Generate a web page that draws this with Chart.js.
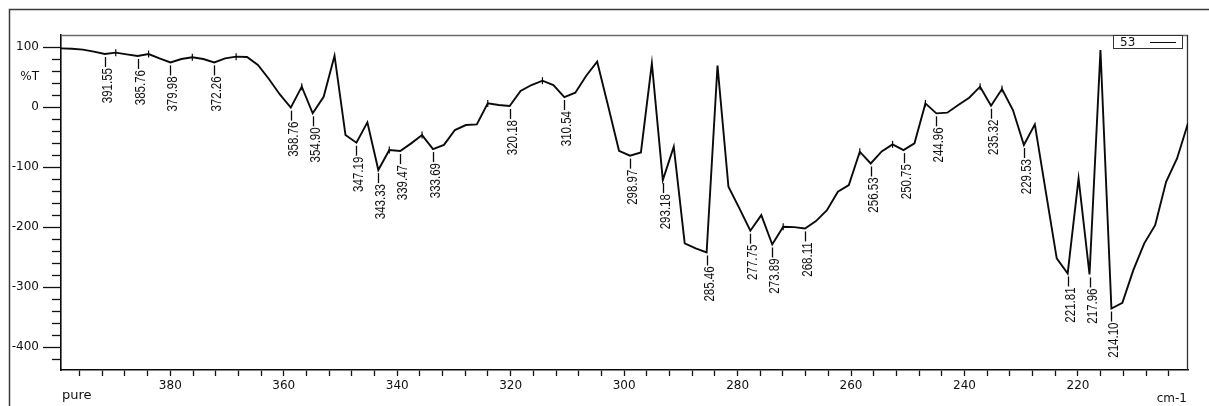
<!DOCTYPE html>
<html>
<head>
<meta charset="utf-8">
<script src="https://cdn.jsdelivr.net/npm/chart.js@4.4.1/dist/chart.umd.min.js"></script>
<style>
  html, body { margin: 0; padding: 0; background: #fff; }
  canvas { display: block; }
</style>
</head>
<body>
<canvas id="spectrum" width="1209" height="406"></canvas>
<script>
// Far-IR spectrum, sample "53" (pure), wavenumber in cm-1, transmittance in %T
const wavenumbers = [
  399.27, 397.34, 395.41, 393.48, 391.55, 389.62, 387.69, 385.76, 383.83, 381.91,
  379.98, 378.05, 376.12, 374.19, 372.26, 370.33, 368.40, 366.48, 364.55, 362.62,
  360.69, 358.76, 356.83, 354.90, 352.97, 351.05, 349.12, 347.19, 345.26, 343.33,
  341.40, 339.47, 337.54, 335.62, 333.69, 331.76, 329.83, 327.90, 325.97, 324.04,
  322.11, 320.18, 318.26, 316.33, 314.40, 312.47, 310.54, 308.61, 306.68, 304.75,
  302.83, 300.90, 298.97, 297.04, 295.11, 293.18, 291.25, 289.32, 287.39, 285.46,
  283.54, 281.61, 279.68, 277.75, 275.82, 273.89, 271.96, 270.04, 268.11, 266.18,
  264.25, 262.32, 260.39, 258.46, 256.53, 254.60, 252.68, 250.75, 248.82, 246.89,
  244.96, 243.03, 241.10, 239.17, 237.25, 235.32, 233.39, 231.46, 229.53, 227.60,
  225.67, 223.74, 221.81, 219.89, 217.96, 216.03, 214.10, 212.17, 210.24, 208.31,
  206.39, 204.46, 202.53, 200.60
];

const transmittance = [
  97.8, 97.2, 95.6, 92.2, 88.3, 90.6, 87.8, 85.0, 88.3, 81.1,
  74.4, 80.0, 82.8, 80.0, 74.4, 81.1, 83.9, 83.3, 70.0, 46.7,
  21.0, -1.0, 34.0, -10.5, 17.0, 85.5, -46.7, -59.4, -25.6, -105.0,
  -71.7, -73.3, -60.5, -46.7, -70.0, -63.0, -38.3, -30.0, -29.0, 6.1,
  3.3, 1.7, 26.7, 36.7, 43.9, 36.7, 16.7, 23.9, 52.2, 75.6,
  2.0, -72.8, -81.0, -75.6, 72.8, -121.7, -66.1, -227.0, -235.5, -242.2,
  68.9, -132.8, -168.9, -206.0, -180.0, -228.9, -199.4, -200.0, -202.2, -190.0,
  -171.7, -141.1, -130.0, -74.4, -94.0, -74.0, -62.2, -71.7, -60.5, 6.1,
  -10.5, -9.4, 3.3, 15.6, 33.9, 2.2, 30.0, -5.0, -63.3, -28.9,
  -141.0, -252.0, -277.2, -118.9, -278.9, 95.0, -335.6, -326.0, -271.7, -227.0,
  -196.7, -124.4, -85.6, -27.2
];

// picked absorption bands (labelled minima)
const peakLabels = [
  391.55, 385.76, 379.98, 372.26, 358.76, 354.90, 347.19, 343.33, 339.47, 333.69,
  320.18, 310.54, 298.97, 293.18, 285.46, 277.75, 273.89, 268.11, 256.53, 250.75,
  244.96, 235.32, 229.53, 221.81, 217.96, 214.10
];

// small marks on local maxima
const maxMarks = [
  389.62, 383.83, 376.12, 368.40, 356.83, 341.40, 335.62, 324.04, 314.40,
  271.96, 258.46, 252.68, 246.89, 237.25, 233.39
];

const seriesName = '53';
const sampleNote = 'pure';
const xUnit = 'cm-1';
const yUnit = '%T';
const xLabelValues = [380, 360, 340, 320, 300, 280, 260, 240, 220];
const yLabelValues = [100, 0, -100, -200, -300, -400];
const yUnitAt = 50;

const INK = '#0a0a0a';
const TEXT = '#111';

const decorations = {
  id: 'decorations',
  beforeDatasetsDraw(chart) {
    const { ctx, chartArea: a } = chart;
    ctx.save();
    ctx.lineCap = 'butt';
    ctx.strokeStyle = '#6a6a6a';
    ctx.lineWidth = 1.6;
    ctx.beginPath();
    ctx.moveTo(a.left, a.top + 0.5);
    ctx.lineTo(a.right, a.top + 0.5);
    ctx.stroke();
    ctx.strokeStyle = '#333';
    ctx.lineWidth = 1.3;
    ctx.beginPath();
    ctx.moveTo(a.right - 0.5, a.top);
    ctx.lineTo(a.right - 0.5, a.bottom);
    ctx.stroke();
    ctx.restore();
  },
  afterDatasetsDraw(chart) {
    const { ctx } = chart;
    const xs = chart.scales.x, ys = chart.scales.y;
    ctx.save();
    ctx.strokeStyle = INK;
    ctx.fillStyle = TEXT;
    ctx.lineWidth = 1.3;
    ctx.font = '11.5px "Liberation Sans", Arial, sans-serif';
    peakLabels.forEach(w => {
      const i = wavenumbers.indexOf(w);
      const px = Math.round(xs.getPixelForValue(w)) + 0.5;
      const py = ys.getPixelForValue(transmittance[i]);
      const top = py + 3;
      const end = top + 10;
      ctx.beginPath();
      ctx.moveTo(px, top);
      ctx.lineTo(px, end);
      ctx.stroke();
      ctx.save();
      ctx.translate(px, end + 1);
      ctx.rotate(-Math.PI / 2);
      ctx.scale(1, 1.25);
      ctx.textAlign = 'right';
      ctx.textBaseline = 'alphabetic';
      ctx.fillText(w.toFixed(2), 0, 5);
      ctx.restore();
    });
    ctx.restore();
  },
  afterDraw(chart) {
    const { ctx, chartArea: a } = chart;
    ctx.save();
    // outer frame
    ctx.strokeStyle = '#3a3a3a';
    ctx.lineWidth = 1.5;
    ctx.beginPath();
    ctx.moveTo(9.5, chart.height);
    ctx.lineTo(9.5, 9.5);
    ctx.lineTo(chart.width, 9.5);
    ctx.stroke();

    // legend box
    const lx = a.right - 75, ly = a.top, lw = 69, lh = 13;
    ctx.fillStyle = '#fff';
    ctx.fillRect(lx, ly, lw, lh);
    ctx.strokeStyle = '#333';
    ctx.lineWidth = 1;
    ctx.strokeRect(lx + 0.5, ly + 0.5, lw, lh);
    ctx.fillStyle = TEXT;
    ctx.font = '12px "DejaVu Sans", sans-serif';
    ctx.textAlign = 'left';
    ctx.textBaseline = 'alphabetic';
    ctx.fillText(chart.data.datasets[0].label, lx + 7, ly + 11);
    ctx.strokeStyle = chart.data.datasets[0].borderColor;
    ctx.beginPath();
    ctx.moveTo(lx + 37, ly + 7.5);
    ctx.lineTo(lx + 63, ly + 7.5);
    ctx.stroke();

    // axis notes
    ctx.fillStyle = TEXT;
    ctx.font = '13px "DejaVu Sans", sans-serif';
    ctx.textAlign = 'left';
    ctx.fillText(sampleNote, a.left + 1, 399);
    ctx.font = '12px "DejaVu Sans", sans-serif';
    ctx.textAlign = 'right';
    ctx.fillText(xUnit, a.right - 1, 402);
    ctx.restore();
  }
};

const points = wavenumbers.map((w, i) => ({ x: w, y: transmittance[i] }));

new Chart(document.getElementById('spectrum'), {
  type: 'line',
  data: {
    datasets: [{
      label: seriesName,
      data: points,
      borderColor: INK,
      borderWidth: 1.9,
      tension: 0,
      fill: false,
      pointStyle: 'line',
      pointRotation: 90,
      pointBorderColor: INK,
      pointBorderWidth: 1.2,
      pointRadius: ctx => maxMarks.includes(wavenumbers[ctx.dataIndex]) ? 3.5 : 0,
      pointHoverRadius: 0
    }]
  },
  options: {
    responsive: false,
    animation: false,
    events: [],
    layout: { padding: { top: 35, right: 21, left: 0, bottom: 0 } },
    plugins: { legend: { display: false }, tooltip: { enabled: false } },
    scales: {
      x: {
        type: 'linear',
        reverse: true,
        min: 200.60,
        max: 399.27,
        afterFit: s => { s.height = 36; },
        afterBuildTicks: s => {
          const t = [];
          for (let v = 204; v <= 396; v += 4) t.push({ value: v });
          s.ticks = t;
        },
        border: { color: INK, width: 1.6 },
        grid: { drawOnChartArea: false, tickLength: 6, tickColor: '#111', tickWidth: 1.3 },
        ticks: {
          autoSkip: false,
          maxRotation: 0,
          padding: 3,
          color: TEXT,
          font: { family: '"DejaVu Sans", sans-serif', size: 12 },
          callback: v => xLabelValues.includes(v) ? String(v) : ''
        }
      },
      y: {
        type: 'linear',
        min: -438,
        max: 120,
        afterFit: s => { s.width = 61; },
        afterBuildTicks: s => {
          const t = [];
          for (let v = -420; v <= 100; v += 20) t.push({ value: v });
          t.push({ value: yUnitAt });
          s.ticks = t;
        },
        border: { color: INK, width: 1.6 },
        grid: {
          drawOnChartArea: false,
          tickLength: 18,
          tickWidth: 1.3,
          tickColor: c => (c.tick && c.tick.value === yUnitAt) ? 'rgba(0,0,0,0)' : '#111',
          tickBorderDash: c => (c.tick && c.tick.value % 100 === 0) ? [] : [9, 9],
          tickBorderDashOffset: 9
        },
        ticks: {
          autoSkip: false,
          padding: 4,
          color: TEXT,
          font: { family: '"DejaVu Sans", sans-serif', size: 12 },
          callback: v => v === yUnitAt ? yUnit : (yLabelValues.includes(v) ? String(v) : '')
        }
      }
    }
  },
  plugins: [decorations]
});
</script>
</body>
</html>
